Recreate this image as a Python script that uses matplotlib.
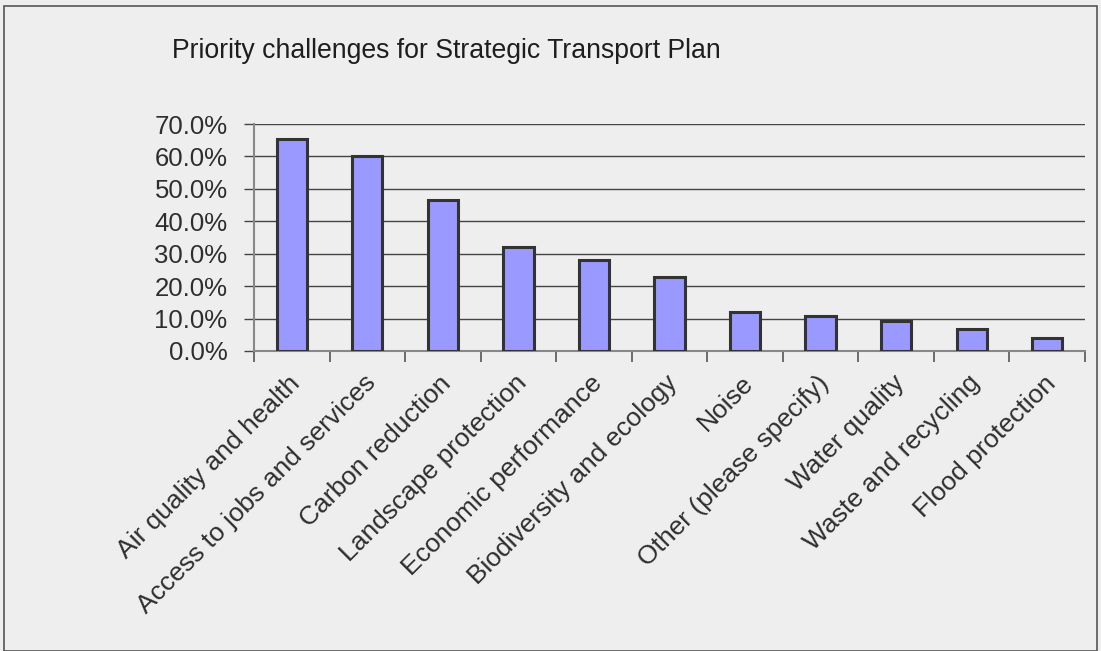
import matplotlib.pyplot as plt
import matplotlib.transforms as mtransforms
import numpy as np
from matplotlib.patches import Rectangle
from matplotlib.ticker import FixedLocator, FuncFormatter

plt.rcParams['font.family'] = ['Liberation Sans', 'DejaVu Sans']

categories = [
    "Air quality and health",
    "Access to jobs and services",
    "Carbon reduction",
    "Landscape protection",
    "Economic performance",
    "Biodiversity and ecology",
    "Noise",
    "Other (please specify)",
    "Water quality",
    "Waste and recycling",
    "Flood protection",
]
shares = [65.3, 60.0, 46.7, 32.0, 28.0, 22.7, 12.0, 10.7, 9.3, 6.7, 4.0]
y_ticks = [0, 10, 20, 30, 40, 50, 60, 70]

bg = "#eeeeee"
W, H = 1101, 651
fig = plt.figure(figsize=(W / 100, H / 100), dpi=100, facecolor=bg)

# outer chart frame
fig.patches.append(Rectangle((4 / W, 0), (W - 8) / W, 1 - 6 / H,
                             transform=fig.transFigure, fill=False,
                             edgecolor="#555555", linewidth=1.2))

ax = fig.add_axes([254 / W, 1 - 351 / H, (1085 - 254) / W, (351 - 124) / H])
ax.set_facecolor(bg)

x = np.arange(len(categories))
ax.bar(x, shares, width=0.4, color="#9999ff", edgecolor="#333333",
       linewidth=2.2, zorder=3)

ax.set_xlim(-0.5, len(categories) - 0.5)
ax.set_ylim(0, 70)
ax.set_yticks(y_ticks)
ax.yaxis.set_major_formatter(FuncFormatter(lambda v, p: f"{v:.1f}%"))
ax.grid(axis="y", color="#444444", linewidth=1.0, zorder=0)
ax.tick_params(axis="y", length=7, width=1.0, color="#444444",
               labelsize=18.5, labelcolor="#2e2e2e", pad=12)

# category labels at bar centres, tick marks on the category boundaries
ax.set_xticks(x)
ax.set_xticklabels(categories, rotation=45, ha="right",
                   rotation_mode="anchor", fontsize=19, color="#2e2e2e")
ax.tick_params(axis="x", which="major", length=0, pad=10)
shift = mtransforms.ScaledTranslation(-4 / 100, -6 / 100, fig.dpi_scale_trans)
for lbl in ax.get_xticklabels():
    lbl.set_transform(lbl.get_transform() + shift)
ax.xaxis.set_minor_locator(FixedLocator(np.arange(-0.5, len(categories), 1)))
ax.tick_params(axis="x", which="minor", length=8, width=1.2, color="#555555")

for side in ["top", "right"]:
    ax.spines[side].set_visible(False)
ax.spines["left"].set_color("#888888")
ax.spines["left"].set_linewidth(1.5)
ax.spines["bottom"].set_color("#888888")
ax.spines["bottom"].set_linewidth(1.5)

fig.text(172 / W, 1 - 58 / H, "Priority challenges for Strategic Transport Plan",
         ha="left", va="baseline", fontsize=19.2, color="#1e1e1e")

fig.savefig("out.png", dpi=100, facecolor=bg)
